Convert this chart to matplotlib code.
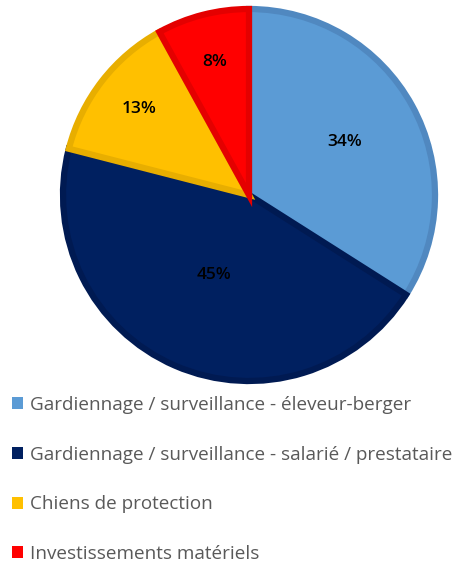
import numpy as np
import matplotlib.pyplot as plt
from matplotlib.patches import Patch

labels = ["Gardiennage / surveillance - éleveur-berger",
          "Gardiennage / surveillance - salarié / prestataire",
          "Chiens de protection",
          "Investissements matériels"]
values = [34, 45, 13, 8]
colors = ["#5B9BD5", "#002060", "#FFC000", "#FF0000"]
edge_colors = ["#5088C0", "#001A52", "#E8AE00", "#E40000"]
label_dist = [0.59, 0.47, 0.75, 0.74]

W, H = 461, 562
fig = plt.figure(figsize=(W / 100, H / 100), dpi=100)
cx, cy, r = 249, 195, 186
ax = fig.add_axes([(cx - r) / W, (H - cy - r) / H, 2 * r / W, 2 * r / H])

wedges, texts, autotexts = ax.pie(values, colors=colors, startangle=90, counterclock=False,
                                  autopct="%d%%", radius=1.0,
                                  wedgeprops=dict(linewidth=4.5),
                                  textprops=dict(fontsize=12.5, family="Open Sans",
                                                 weight="semibold", color="black"))
for w, ec, t, d in zip(wedges, edge_colors, autotexts, label_dist):
    w.set_edgecolor(ec)
    ang = np.deg2rad((w.theta1 + w.theta2) / 2)
    t.set_position((d * np.cos(ang), d * np.sin(ang)))
ax.set_xlim(-1.0, 1.0)
ax.set_ylim(-1.0, 1.0)

handles = [Patch(facecolor=c, edgecolor="none") for c in colors]
fig.legend(handles, labels, loc="upper left", bbox_to_anchor=(8 / W, 1 - 392 / H),
           frameon=False, handlelength=0.6, handleheight=0.6, handletextpad=0.35,
           labelspacing=1.68, borderaxespad=0.0, borderpad=0.2,
           prop=dict(family="Open Sans", size=13.6), labelcolor="#595959")

fig.savefig("out.png", dpi=100)
